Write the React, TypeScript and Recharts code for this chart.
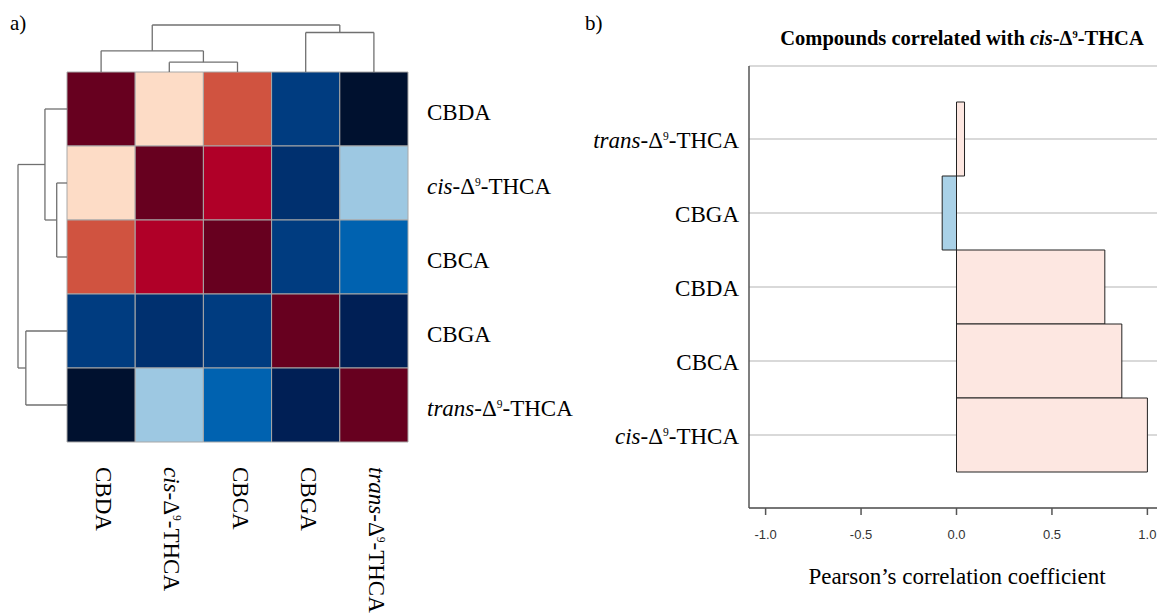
import React from 'react';
import {
    ComposedChart, Scatter, XAxis, YAxis, ReferenceArea, ReferenceLine,
    BarChart, Bar, Cell, CartesianGrid,
} from 'recharts';

// ---- panel a data ----
const compounds = ['CBDA', 'cis-Δ9-THCA', 'CBCA', 'CBGA', 'trans-Δ9-THCA'];
const corrMatrix = [
    [1.0, 0.777, 0.81, -0.05, -0.25],
    [0.777, 1.0, 0.866, -0.075, 0.042],
    [0.81, 0.866, 1.0, -0.06, 0.0],
    [-0.05, -0.075, -0.06, 1.0, -0.15],
    [-0.25, 0.042, 0.0, -0.15, 1.0],
];
// hclust style merges: negative = leaf -(index+1), positive = earlier merge (1-based)
const mergeA = [-2, -1, -4, 2];
const mergeB = [-3, 1, -5, 3];
const mergeHeight = [0.21, 0.45, 0.84, 1.0];

const heatBreaks = [-0.2, -0.1, -0.07, -0.03, 0.02, 0.5, 0.79, 0.84, 0.95];
const heatPalette = ['#00112F', '#001F55', '#00306F', '#003C80', '#0062B0', '#9DC8E2', '#FDDCC6', '#D05340', '#B00028', '#67001F'];

// ---- panel b data ----
const corrLabels = ['trans-Δ9-THCA', 'CBGA', 'CBDA', 'CBCA', 'cis-Δ9-THCA'];
const corrValues = [0.042, -0.075, 0.777, 0.866, 1.0];
const corrTicks = [-1, -0.5, 0, 0.5, 1];

const SERIF = '"Liberation Serif", "Times New Roman", serif';
const SANS = '"Liberation Sans", Arial, sans-serif';

const CELL_W = 68.2;
const CELL_H = 74;
const DEND_LEFT_PX = 49;
const DEND_TOP_PX = 47;

const heatColor = (v: number) => heatPalette[heatBreaks.filter(b => v > b).length];

function CompoundText({ x, y, name, fontSize, anchor, transform, weight }: any) {
    const m = /^(cis|trans)-Δ9-(.*)$/.exec(name);
    if (!m) {
        return <text x={x} y={y} fontSize={fontSize} fontFamily={SERIF} textAnchor={anchor} transform={transform} fill="#000" fontWeight={weight}>{name}</text>;
    }
    const sup = fontSize * 0.5;
    const shift = fontSize * 0.36;
    return (
        <text x={x} y={y} fontSize={fontSize} fontFamily={SERIF} textAnchor={anchor} transform={transform} fill="#000" fontWeight={weight}>
            <tspan fontStyle="italic">{m[1]}</tspan>
            <tspan>-Δ</tspan>
            <tspan fontSize={sup} dy={-shift}>9</tspan>
            <tspan dy={shift}>-{m[2]}</tspan>
        </text>
    );
}

// dendrogram segments in (position, height) space
function dendroSegments() {
    const nodes: { pos: number, h: number }[] = [];
    const node = (ref: number) => ref < 0 ? { pos: -ref - 1, h: 0 } : nodes[ref - 1];
    const segs: [number, number, number, number][] = [];
    mergeA.forEach((a, k) => {
        const na = node(a);
        const nb = node(mergeB[k]);
        const h = mergeHeight[k];
        segs.push([na.pos, na.h, na.pos, h]);
        segs.push([nb.pos, nb.h, nb.pos, h]);
        segs.push([na.pos, h, nb.pos, h]);
        nodes.push({ pos: (na.pos + nb.pos) / 2, h });
    });
    return segs;
}

const topScale = DEND_TOP_PX / CELL_H;
const leftScale = DEND_LEFT_PX / CELL_W;

function Heatmap() {
    const cells: { x: number, y: number, v: number }[] = [];
    corrMatrix.forEach((row, r) => row.forEach((v, c) => cells.push({ x: c, y: r, v })));
    const segs = dendroSegments();
    const xMin = -0.5 - leftScale;
    const yMin = -0.5 - topScale;
    return (
        <ComposedChart width={580} height={613} margin={{ top: 72 - DEND_TOP_PX, right: 0, bottom: 0, left: 67 - DEND_LEFT_PX }}>
            <XAxis type="number" dataKey="x" domain={[xMin, 4.5]} allowDataOverflow ticks={[0, 1, 2, 3, 4]}
                height={171} axisLine={false} tickLine={false} tickSize={0} tickMargin={25}
                tick={(p: any) => (
                    <CompoundText x={p.x - 5} y={p.y} name={compounds[p.payload.value]} fontSize={23}
                        anchor="start" transform={`rotate(90, ${p.x - 5}, ${p.y})`} />
                )} />
            <YAxis type="number" dataKey="y" orientation="right" reversed domain={[yMin, 4.5]} allowDataOverflow
                ticks={[0, 1, 2, 3, 4]} width={172} axisLine={false} tickLine={false} tickSize={0} tickMargin={19}
                tick={(p: any) => (
                    <CompoundText x={p.x} y={p.y + 11} name={compounds[p.payload.value]} fontSize={23} anchor="start" />
                )} />
            {cells.map((d, i) => (
                <ReferenceArea key={'c' + i} x1={d.x - 0.5} x2={d.x + 0.5} y1={d.y - 0.5} y2={d.y + 0.5}
                    fill={heatColor(d.v)} fillOpacity={1} stroke="#A8A8A8" strokeWidth={1} ifOverflow="visible" />
            ))}
            {segs.map((s, i) => (
                <ReferenceLine key={'t' + i} ifOverflow="visible" stroke="#707070" strokeWidth={1.3}
                    segment={[{ x: s[0], y: -0.5 - s[1] * topScale }, { x: s[2], y: -0.5 - s[3] * topScale }]} />
            ))}
            {segs.map((s, i) => (
                <ReferenceLine key={'l' + i} ifOverflow="visible" stroke="#707070" strokeWidth={1.3}
                    segment={[{ x: -0.5 - s[1] * leftScale, y: s[0] }, { x: -0.5 - s[3] * leftScale, y: s[2] }]} />
            ))}
            <Scatter data={cells} dataKey="y" isAnimationActive={false} shape={() => <g />} />
        </ComposedChart>
    );
}

function CorrBars() {
    const data = corrLabels.map((name, i) => ({ name, value: corrValues[i] }));
    return (
        <BarChart layout="vertical" width={600} height={613} data={data} barCategoryGap={0}
            margin={{ top: 66, right: 16, bottom: 0, left: 0 }}>
            <CartesianGrid horizontal vertical={false} stroke="#CCCCCC" strokeWidth={1.5} />
            <XAxis type="number" domain={[-1.087, 1.087]} ticks={corrTicks} allowDataOverflow height={105}
                tickFormatter={(v: number) => v.toFixed(1)} stroke="#555" strokeWidth={1.5}
                tickSize={7} tickMargin={15} tick={{ fontSize: 13, fontFamily: SANS, fill: '#333' }} />
            <XAxis xAxisId="top" orientation="top" type="number" domain={[-1.087, 1.087]} allowDataOverflow
                height={0} tick={false} tickLine={false} stroke="#555" strokeWidth={1.5} />
            <YAxis type="category" dataKey="name" width={169} padding={{ top: 36, bottom: 36 }}
                stroke="#555" strokeWidth={1.5} tickLine={false} tickSize={0} tickMargin={10}
                tick={(p: any) => <CompoundText x={p.x} y={p.y + 9} name={p.payload.value} fontSize={23} anchor="end" />} />
            <Bar dataKey="value" isAnimationActive={false} stroke="#222" strokeWidth={1}>
                {data.map((d, i) => <Cell key={i} fill={d.value < 0 ? '#A9D1E7' : '#FDE7E1'} />)}
            </Bar>
        </BarChart>
    );
}

export default function App() {
    return (
        <div style={{ position: 'fixed', left: 0, top: 0, width: 1157, height: 613, overflow: 'hidden', background: '#fff' }}>
            <div style={{ position: 'absolute', left: 0, top: 0 }}><Heatmap /></div>
            <div style={{ position: 'absolute', left: 580, top: 0 }}><CorrBars /></div>
            <svg width={1157} height={613} style={{ position: 'absolute', left: 0, top: 0, pointerEvents: 'none' }}>
                <text x={10} y={30} fontSize={21} fontFamily={SERIF}>a)</text>
                <text x={585} y={30} fontSize={21} fontFamily={SERIF}>b)</text>
                <text x={962} y={45} fontSize={20.5} fontFamily={SERIF} fontWeight="bold" textAnchor="middle">
                    <tspan>Compounds correlated with </tspan>
                    <tspan fontStyle="italic">cis</tspan>
                    <tspan>-Δ</tspan>
                    <tspan fontSize={10.5} dy={-7}>9</tspan>
                    <tspan dy={7}>-THCA</tspan>
                </text>
                <text x={957} y={584} fontSize={23} fontFamily={SERIF} textAnchor="middle">Pearson’s correlation coefficient</text>
            </svg>
        </div>
    );
}
